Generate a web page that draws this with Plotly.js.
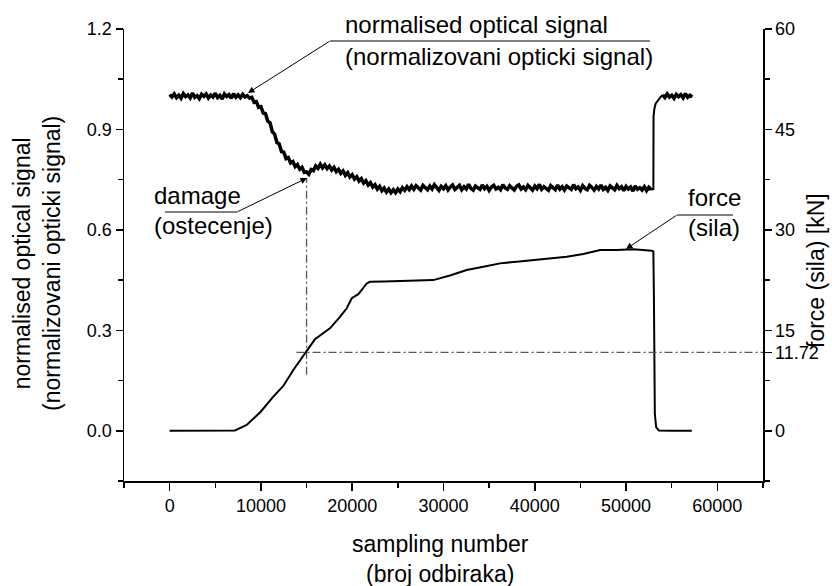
<!DOCTYPE html>
<html><head><meta charset="utf-8">
<script src="https://cdn.plot.ly/plotly-3.0.1.min.js"></script>
<style>html,body{margin:0;padding:0;background:#fff}#chart{width:832px;height:586px}</style>
</head><body><div id="chart"></div>
<script>
// ---- data ----
// optical signal, part 1: samples 0 .. 52750, one value every 250 samples
const opticalStart1 = 0, opticalStep = 250;
const opticalPart1 = [
 1.004,0.997,1.006,0.995,1.002,0.993,1.007,0.998,1.003,0.994,1.009,0.996,1.001,0.992,1.005,0.999,1.006,0.994,1.003,0.997,
 1.008,0.995,1.002,0.991,1.006,0.998,1.004,0.993,1.007,0.996,1.003,0.995,1.005,0.997,1.001,
 0.994,0.996,0.981,0.983,0.966,0.968,0.949,0.947,0.925,0.920,0.893,0.886,0.861,0.857,0.834,0.832,0.813,0.816,0.800,0.804,
 0.789,0.795,0.781,0.787,0.772,0.773,0.766,0.780,0.777,0.791,0.784,0.796,0.785,0.794,0.783,0.791,0.779,0.787,0.774,0.781,
 0.769,0.776,0.763,0.771,0.758,0.765,0.752,0.759,0.746,0.753,0.740,0.747,0.734,0.741,0.728,0.735,0.722,0.730,0.717,0.725,
 0.713,0.722,0.711,0.720,0.711,0.722,0.714,0.726,0.718,0.729,0.720,0.731,
 0.721,0.732,0.724,0.719,0.733,0.727,0.720,0.731,0.722,0.735,
 0.725,0.718,0.730,0.723,0.732,0.719,0.728,0.734,0.721,0.726,
 0.733,0.720,0.729,0.722,0.736,0.724,0.719,0.731,0.727,0.721,
 0.734,0.723,0.730,0.718,0.728,0.733,0.722,0.727,0.720,0.735,
 0.725,0.721,0.732,0.724,0.719,0.730,0.734,0.722,0.728,0.720,
 0.733,0.726,0.719,0.731,0.723,0.736,0.721,0.729,0.724,0.718,
 0.732,0.725,0.720,0.734,0.722,0.729,0.719,0.731,0.726,0.721,
 0.735,0.723,0.728,0.718,0.732,0.724,0.720,0.733,0.727,0.719,
 0.730,0.722,0.734,0.721,0.727,0.718,0.731,0.725,0.720,0.733,
 0.723,0.729,0.717,0.730,0.722,0.728,0.716,0.731,0.721,0.726,
 0.719,0.729,0.717,0.727,0.720];
// optical signal, part 2: the recovery jump when the load is released
const opticalJumpSamples = [52750,52990,53010,53100,53250,53500,53750,54000];
const opticalJumpSignal  = [0.720,0.722,0.940,0.962,0.978,0.988,0.996,1.003];
// optical signal, part 3: samples 54000 .. 57250, one value every 250 samples
const opticalStart3 = 54000;
const opticalPart3 = [1.003,0.995,1.006,0.997,1.002,0.993,1.005,0.998,1.004,0.994,1.007,0.996,1.002,0.997];

const sampleForce = [0,2000,4000,6000,7160,8440,9975,11360,12450,13550,14470,15550,15910,16290,17560,18660,19400,19950,20670,21590,21950,23500,25240,27000,28880,30710,32540,34360,36190,38020,39840,41670,43500,45320,47150,48970,50800,52810,52990,53050,53100,53150,53300,53600,55000,57200];
const forceKN = [0,0.02,-0.02,0.02,0.05,0.87,2.85,5.09,6.69,9.07,10.8,12.8,13.66,14.05,15.3,17.0,18.3,19.8,20.4,22.0,22.25,22.3,22.4,22.4,22.5,23.2,24.0,24.5,25.0,25.25,25.5,25.76,26.0,26.4,27.0,27.0,27.1,26.9,26.8,20.0,8.0,2.5,0.5,0.05,0.0,0.0];

const damageLineSamples = [15000, 15000];
const damageLineSignal = [0.167, 0.755];
const thresholdSamples = [13900, 65000];
const thresholdForce = [11.72, 11.72];

const xTicks = [0,10000,20000,30000,40000,50000,60000];
const xMinor = [-5000,5000,15000,25000,35000,45000,55000,65000];
const leftTicks = [0,0.3,0.6,0.9,1.2];
const leftTickText = ['0.0','0.3','0.6','0.9','1.2'];
const leftMinor = [-0.15,0.15,0.45,0.75,1.05];
const rightTicks = [0,15,30,45,60,11.72];
const rightTickText = ['0','15','30','45','60','11.72'];
const rightMinor = [-7.5,7.5,22.5,37.5,52.5];

// ---- layout helpers (pixel -> paper) ----
const L = 124, R = 763, T = 29, B = 481;
const px = x => (x - L) / (R - L);
const py = y => (B - y) / (B - T);
const FONT = 'Liberation Sans, Arial, sans-serif';

const sigLine = {color: '#000', width: 3.5};
const ddash = {color: '#555', width: 1.3, dash: '8px,3px,2px,3px'};
const traces = [
  {y: opticalPart1, x0: opticalStart1, dx: opticalStep, mode: 'lines', line: sigLine, yaxis: 'y', hoverinfo: 'skip'},
  {x: opticalJumpSamples, y: opticalJumpSignal, mode: 'lines', line: {color: '#000', width: 2}, yaxis: 'y', hoverinfo: 'skip'},
  {y: opticalPart3, x0: opticalStart3, dx: opticalStep, mode: 'lines', line: sigLine, yaxis: 'y', hoverinfo: 'skip'},
  {x: sampleForce, y: forceKN, mode: 'lines', line: {color: '#000', width: 2}, yaxis: 'y2', hoverinfo: 'skip'},
  {x: damageLineSamples, y: damageLineSignal, mode: 'lines', line: ddash, yaxis: 'y', hoverinfo: 'skip'},
  {x: thresholdSamples, y: thresholdForce, mode: 'lines', line: ddash, yaxis: 'y2', hoverinfo: 'skip'}
];

function txt(text, x, y, size, anchor, angle) {
  return {text: text, xref: 'paper', yref: 'paper', x: px(x), y: py(y), showarrow: false,
    xanchor: anchor || 'left', yanchor: 'middle', textangle: angle || 0, font: {family: FONT, size: size, color: '#000'}};
}
function arrow(tip, tail) {
  return {text: '', xref: 'paper', yref: 'paper', x: px(tip[0]), y: py(tip[1]), ax: tail[0] - tip[0], ay: tail[1] - tip[1],
    showarrow: true, arrowhead: 2, arrowsize: 1.3, arrowwidth: 1, arrowcolor: '#000', standoff: 0, startstandoff: 0,
    font: {size: 1}, borderpad: 0};
}
function seg(x0, y0, x1, y1) {
  return {type: 'line', xref: 'paper', yref: 'paper', x0: px(x0), y0: py(y0), x1: px(x1), y1: py(y1), line: {color: '#000', width: 1}};
}

const annotations = [
  txt('normalised optical signal<br>(normalizovani opticki signal)', 37, 264, 23, 'center', -90),
  txt('sampling number<br>(broj odbiraka)', 440, 559, 23, 'center'),
  txt('force (sila) [kN]', 816, 271, 23, 'center', -90),
  txt('normalised optical signal', 343, 25, 24),
  txt('(normalizovani opticki signal)', 343, 56, 24),
  txt('damage', 152, 195, 24),
  txt('(ostecenje)', 152, 225, 24),
  txt('force', 686, 197, 24),
  txt('(sila)', 686, 228, 24),
  arrow([248, 93], [330, 41]),
  arrow([307, 178], [237, 212]),
  arrow([626, 249], [677, 215])
];
const shapes = [seg(330, 41, 650, 41), seg(165, 212, 237, 212), seg(677, 215, 733, 215)];

const axisCommon = {showgrid: false, zeroline: false, showline: true, linecolor: '#000', linewidth: 1.5,
  ticks: 'outside', tickcolor: '#000', tickwidth: 1.5, tickfont: {family: FONT, size: 18, color: '#000'}};

const layout = {
  width: 832, height: 586,
  margin: {l: L, r: 832 - R, t: T, b: 586 - B, pad: 0},
  paper_bgcolor: '#fff', plot_bgcolor: '#fff', showlegend: false,
  font: {family: FONT, color: '#000'},
  xaxis: Object.assign({}, axisCommon, {range: [-5000, 65000], tickmode: 'array', tickvals: xTicks, ticktext: xTicks.map(String), ticklen: 8,
    minor: {tickmode: 'array', tickvals: xMinor, ticklen: 5, ticks: 'outside', tickcolor: '#000', tickwidth: 1.5}}),
  yaxis: Object.assign({}, axisCommon, {range: [-0.15, 1.2], tickmode: 'array', tickvals: leftTicks, ticktext: leftTickText, ticklen: 7,
    minor: {tickmode: 'array', tickvals: leftMinor, ticklen: 5, ticks: 'outside', tickcolor: '#000', tickwidth: 1.5}}),
  yaxis2: Object.assign({}, axisCommon, {overlaying: 'y', side: 'right', anchor: 'x', range: [-7.5, 60], tickmode: 'array', tickvals: rightTicks, ticktext: rightTickText, ticklen: 7,
    minor: {tickmode: 'array', tickvals: rightMinor, ticklen: 5, ticks: 'outside', tickcolor: '#000', tickwidth: 1.5}}),
  annotations: annotations,
  shapes: shapes
};

Plotly.newPlot('chart', traces, layout, {staticPlot: true, displayModeBar: false});
</script></body></html>
